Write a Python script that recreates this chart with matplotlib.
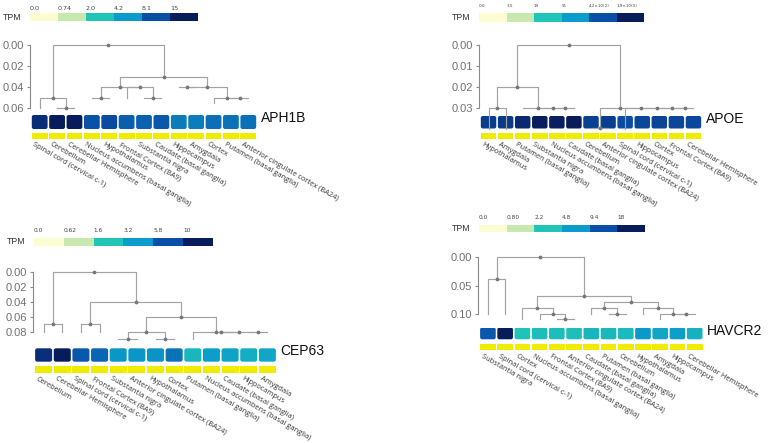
import matplotlib.pyplot as plt
import numpy as np
from matplotlib.colors import LinearSegmentedColormap
from matplotlib.patches import FancyBboxPatch, Rectangle

FIG_W, FIG_H = 770, 443

TPM_COLORS = ["#fbfdd1", "#c7e9b0", "#21c5b7", "#0b9ccb", "#0a4fa7", "#081b5b"]
STRIPE_COLOR = "#f0ec00"
TREE_COLOR = "#a3a3a3"
NODE_COLOR = "#777777"

# ---- APH1B ----
aph1b_tissues = [
    "Spinal cord (cervical c-1)", "Cerebellum", "Cerebellar Hemisphere",
    "Nucleus accumbens (basal ganglia)", "Hypothalamus", "Frontal Cortex (BA9)",
    "Substantia nigra", "Caudate (basal ganglia)", "Hippocampus", "Amygdala",
    "Cortex", "Putamen (basal ganglia)", "Anterior cingulate cortex (BA24)",
]
aph1b_tpm = [12.5, 15.0, 16.0, 8.0, 8.8, 7.3, 7.2, 7.7, 5.9, 5.8, 6.5, 6.3, 6.4]
aph1b_scale = [0.0, 0.74, 2.0, 4.2, 8.1, 15.0]
aph1b_scale_labels = ["0.0", "0.74", "2.0", "4.2", "8.1", "15"]
# merges: (child a, child b, height); ids >= 13 refer to earlier merges
aph1b_merges = [
    (1, 2, 0.060), (0, 13, 0.0505), (3, 4, 0.050), (6, 7, 0.050),
    (5, 16, 0.040), (15, 17, 0.040), (8, 9, 0.040), (11, 12, 0.050),
    (10, 20, 0.050), (19, 21, 0.040), (18, 22, 0.030), (14, 23, 0.0),
]
aph1b_leaf_depth = [0.06, 0.06, 0.06, 0.05, 0.05, 0.05, 0.05, 0.05, 0.04, 0.04, 0.055, 0.05, 0.05]
aph1b_yticks = [0.0, 0.02, 0.04, 0.06]

# ---- APOE ----
apoe_tissues = [
    "Hypothalamus", "Amygdala", "Putamen (basal ganglia)", "Substantia nigra",
    "Nucleus accumbens (basal ganglia)", "Caudate (basal ganglia)", "Cerebellum",
    "Anterior cingulate cortex (BA24)", "Spinal cord (cervical c-1)", "Hippocampus",
    "Cortex", "Frontal Cortex (BA9)", "Cerebellar Hemisphere",
]
apoe_tpm = [960, 980, 1450, 1800, 1750, 1950, 830, 860, 510, 640, 700, 660, 670]
apoe_scale = [0.0, 3.5, 19.0, 91.0, 420.0, 1900.0]
apoe_scale_labels = ["0.0", "3.5", "19", "91", "4.2×10(2)", "1.9×10(3)"]
apoe_merges = [
    (0, 1, 0.030), (4, 5, 0.030), (3, 14, 0.030), (2, 15, 0.030),
    (13, 16, 0.020), (6, 7, 0.0395), (11, 12, 0.030), (10, 19, 0.030),
    (9, 20, 0.030), (8, 21, 0.030), (18, 22, 0.030), (17, 23, 0.0),
]
apoe_leaf_depth = [0.04, 0.04, 0.03, 0.03, 0.03, 0.03, 0.0395, 0.0395, 0.04, 0.03, 0.03, 0.03, 0.03]
apoe_yticks = [0.0, 0.01, 0.02, 0.03]

# ---- CEP63 ----
cep63_tissues = [
    "Cerebellum", "Cerebellar Hemisphere", "Spinal cord (cervical c-1)",
    "Frontal Cortex (BA9)", "Substantia nigra", "Anterior cingulate cortex (BA24)",
    "Hypothalamus", "Cortex", "Putamen (basal ganglia)",
    "Nucleus accumbens (basal ganglia)", "Caudate (basal ganglia)", "Hippocampus",
    "Amygdala",
]
cep63_tpm = [8.3, 10.5, 5.5, 5.0, 3.4, 3.4, 3.5, 4.6, 2.2, 3.1, 2.9, 2.5, 2.8]
cep63_scale = [0.0, 0.62, 1.6, 3.2, 5.8, 10.0]
cep63_scale_labels = ["0.0", "0.62", "1.6", "3.2", "5.8", "10"]
cep63_merges = [
    (0, 1, 0.070), (2, 3, 0.070), (4, 5, 0.090), (6, 7, 0.090),
    (15, 16, 0.080), (9, 10, 0.080), (11, 12, 0.080), (18, 19, 0.080),
    (8, 20, 0.080), (17, 21, 0.060), (14, 22, 0.040), (13, 23, 0.0),
]
cep63_leaf_depth = [0.081, 0.081, 0.081, 0.081, 0.09, 0.09, 0.09, 0.09, 0.09, 0.08, 0.08, 0.08, 0.08]
cep63_yticks = [0.0, 0.02, 0.04, 0.06, 0.08]

# ---- HAVCR2 ----
havcr2_tissues = [
    "Substantia nigra", "Spinal cord (cervical c-1)", "Cortex",
    "Nucleus accumbens (basal ganglia)", "Frontal Cortex (BA9)",
    "Anterior cingulate cortex (BA24)", "Caudate (basal ganglia)",
    "Putamen (basal ganglia)", "Cerebellum", "Hypothalamus", "Amygdala",
    "Hippocampus", "Cerebellar Hemisphere",
]
havcr2_tpm = [8.9, 19.0, 2.35, 2.7, 2.7, 2.6, 3.2, 3.0, 2.9, 5.0, 4.2, 4.6, 3.5]
havcr2_scale = [0.0, 0.80, 2.2, 4.8, 9.4, 18.0]
havcr2_scale_labels = ["0.0", "0.80", "2.2", "4.8", "9.4", "18"]
havcr2_merges = [
    (0, 1, 0.039), (4, 5, 0.109), (3, 14, 0.100), (2, 15, 0.089),
    (7, 8, 0.100), (6, 17, 0.089), (11, 12, 0.100), (10, 19, 0.100),
    (9, 20, 0.089), (18, 21, 0.079), (16, 22, 0.068), (13, 23, 0.0),
]
havcr2_leaf_depth = [0.10, 0.10, 0.109, 0.109, 0.109, 0.109, 0.10, 0.10, 0.10, 0.10, 0.109, 0.10, 0.10]
havcr2_yticks = [0.0, 0.05, 0.10]

cmap = LinearSegmentedColormap.from_list("tpm", TPM_COLORS)


def px_axes(fig, x0, y0, x1, y1):
    return fig.add_axes([x0 / FIG_W, 1 - y1 / FIG_H, (x1 - x0) / FIG_W, (y1 - y0) / FIG_H])


def draw_legend(fig, bar, labels, size, gap):
    x0, x1, y0, y1 = bar
    ax = px_axes(fig, x0, y0, x1, y1)
    ax.set_xlim(0, len(TPM_COLORS))
    ax.set_ylim(0, 1)
    ax.axis("off")
    for k, c in enumerate(TPM_COLORS):
        ax.add_patch(Rectangle((k, 0), 1, 1, fc=c, ec="none"))
    for k, lab in enumerate(labels):
        ax.annotate(lab, (k, 1), xytext=(0, gap * 0.72), textcoords="offset points",
                    ha="left", va="bottom", fontsize=size, color="#444444",
                    family="DejaVu Sans", annotation_clip=False)
    ax.annotate("TPM", (0, 0.5), xytext=(-9 * 0.72, 0), textcoords="offset points",
                ha="right", va="center", fontsize=6.3, color="#333333",
                family="Liberation Sans", annotation_clip=False)


def draw_dendrogram(fig, box, merges, leaf_depth, yticks):
    x0, x1, y0, y1 = box
    n = len(leaf_depth)
    ax = px_axes(fig, x0, y0, x1, y1)
    ax.set_xlim(0, n)
    ax.set_ylim(yticks[-1], yticks[0])
    xs = [i + 0.5 for i in range(n)]
    hs = list(leaf_depth)
    for a, b, h in merges:
        ax.plot([xs[a], xs[a], xs[b], xs[b]], [hs[a], h, h, hs[b]],
                color=TREE_COLOR, lw=0.85, clip_on=False, zorder=2)
        xs.append((xs[a] + xs[b]) / 2)
        hs.append(h)
    ax.plot(xs[n:], hs[n:], "o", ms=1.7, color=NODE_COLOR, clip_on=False, zorder=3)

    for s in ["top", "right", "bottom"]:
        ax.spines[s].set_visible(False)
    ax.spines["left"].set_color("#8a8a8a")
    ax.spines["left"].set_linewidth(0.8)
    ax.spines["left"].set_position(("outward", 1))
    ax.set_xticks([])
    ax.set_yticks(yticks)
    ax.set_yticklabels([f"{t:.2f}" for t in yticks])
    ax.tick_params(axis="y", length=2.5, width=0.8, color="#8a8a8a", pad=1.5,
                   labelsize=8, labelcolor="#707070")
    for t in ax.get_yticklabels():
        t.set_family("Liberation Sans")
    ax.patch.set_alpha(0)


def draw_heatmap(fig, box, values, tissues, scale, gene, gene_y):
    x0, x1, hy0, hy1, sy0, sy1 = box
    n = len(values)
    cell = (x1 - x0) / n
    ax = px_axes(fig, x0, hy0, x1, sy1)
    ax.set_xlim(0, n)
    ax.set_ylim((sy1 - hy0) / cell, 0)
    ax.axis("off")
    pos = np.interp(values, scale, np.linspace(0, 1, len(scale)))
    gap = 0.8 / cell
    for i, p in enumerate(pos):
        ax.add_patch(FancyBboxPatch((i + gap, 0), 1 - 2 * gap, (hy1 - hy0) / cell,
                                    boxstyle="round,pad=0,rounding_size=0.12",
                                    fc=cmap(p), ec="none"))
        ax.add_patch(Rectangle((i + gap, (sy0 - hy0) / cell), 1 - 2 * gap,
                               (sy1 - sy0) / cell, fc=STRIPE_COLOR, ec="none"))
        ax.text(i + 0.22, (sy1 - hy0 + 2.5) / cell, tissues[i], rotation=-30,
                rotation_mode="anchor", ha="left", va="top", fontsize=5.4,
                family="Open Sans", color="#333333", clip_on=False)
    ax.text(n + 4 / cell, (gene_y - hy0) / cell, gene, ha="left", va="center",
            fontsize=10, family="Liberation Sans", color="#111111", clip_on=False)


def main():
    fig = plt.figure(figsize=(FIG_W / 100, FIG_H / 100), dpi=100)

    panels = [
        dict(gene="APH1B", tpm=aph1b_tpm, tissues=aph1b_tissues, scale=aph1b_scale,
             labels=aph1b_scale_labels, merges=aph1b_merges, leaves=aph1b_leaf_depth,
             yticks=aph1b_yticks, bar=(30, 198, 13.3, 20.7), lab_size=4.6, lab_gap=2.5,
             tree=(31, 257, 45, 108), heat=(31, 257, 115, 129, 133, 138.5), gene_y=118),
        dict(gene="APOE", tpm=apoe_tpm, tissues=apoe_tissues, scale=apoe_scale,
             labels=apoe_scale_labels, merges=apoe_merges, leaves=apoe_leaf_depth,
             yticks=apoe_yticks, bar=(479, 644, 13.3, 21.7), lab_size=3.0, lab_gap=5,
             tree=(480, 702, 45, 107.7), heat=(480, 702, 116, 128.5, 133, 138.5), gene_y=119),
        dict(gene="CEP63", tpm=cep63_tpm, tissues=cep63_tissues, scale=cep63_scale,
             labels=cep63_scale_labels, merges=cep63_merges, leaves=cep63_leaf_depth,
             yticks=cep63_yticks, bar=(34, 213, 238.3, 245.7), lab_size=4.2, lab_gap=5,
             tree=(34.3, 276.7, 271.7, 331.7), heat=(34.3, 276.7, 348.3, 361.7, 366, 372.7),
             gene_y=351),
        dict(gene="HAVCR2", tpm=havcr2_tpm, tissues=havcr2_tissues, scale=havcr2_scale,
             labels=havcr2_scale_labels, merges=havcr2_merges, leaves=havcr2_leaf_depth,
             yticks=havcr2_yticks, bar=(479, 645, 224.8, 232.3), lab_size=4.2, lab_gap=4.5,
             tree=(479.3, 703.3, 257.3, 314), heat=(479.3, 703.3, 327.5, 339.3, 344, 350),
             gene_y=331),
    ]

    for p in panels:
        draw_legend(fig, p["bar"], p["labels"], p["lab_size"], p["lab_gap"])
        draw_heatmap(fig, p["heat"], p["tpm"], p["tissues"], p["scale"], p["gene"], p["gene_y"])
        draw_dendrogram(fig, p["tree"], p["merges"], p["leaves"], p["yticks"])

    fig.savefig("out.png", dpi=100)


if __name__ == "__main__":
    main()
